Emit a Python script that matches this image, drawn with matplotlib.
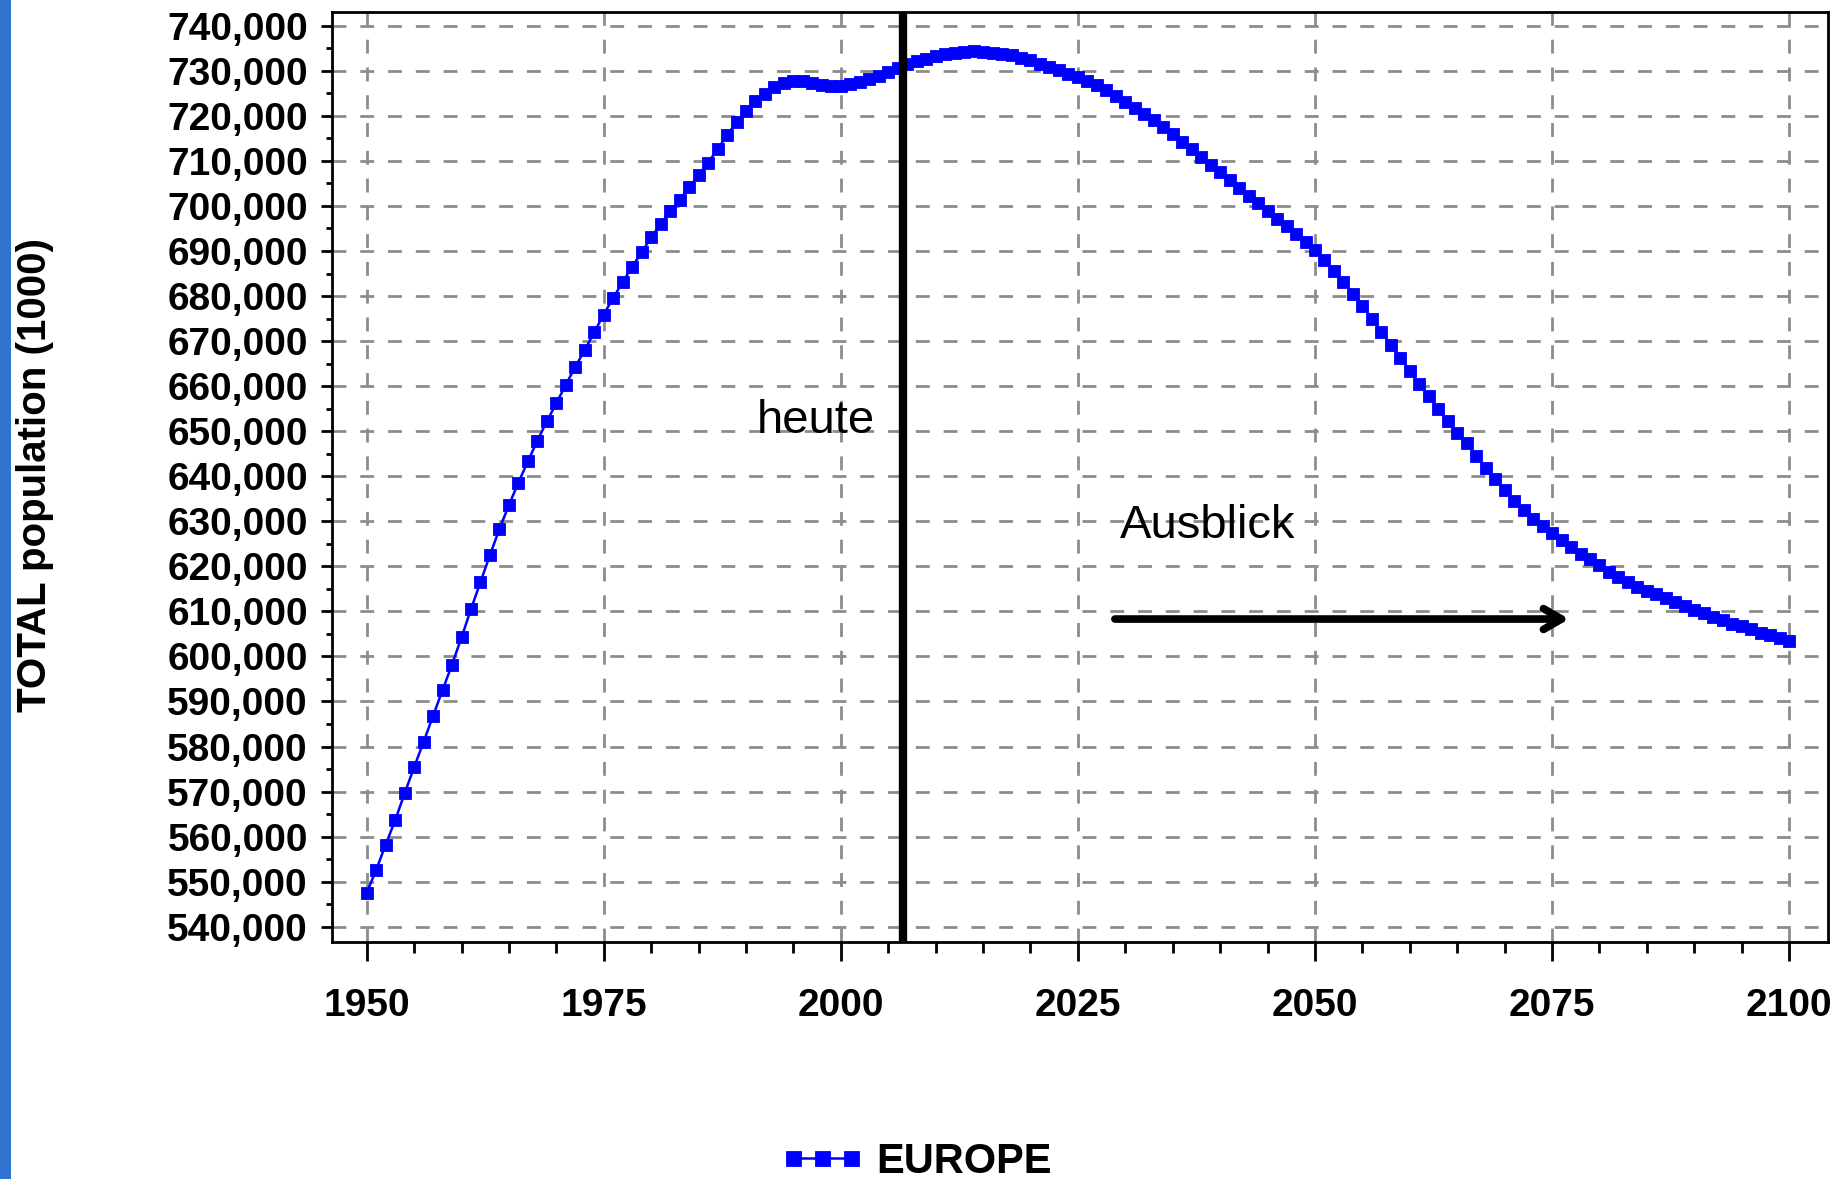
import numpy as np
import matplotlib
matplotlib.use('Agg')
import matplotlib.pyplot as plt
from matplotlib.ticker import MultipleLocator, FuncFormatter
from matplotlib.patches import Rectangle

plt.rcParams['font.family'] = ['Liberation Sans', 'DejaVu Sans']

# # # # # # # # # # # # # # # # # # # # # # # #
# Europa, Gesamtbevoelkerung (Mio.), Jahreswerte 1950-2100
jahre = list(range(1950, 2101))

europa_mio = [
    547.5, 552.6, 558.2, 563.6, 569.6, 575.4, 581.0, 586.8, 592.5, 598.2,   # 1950-59
    604.2, 610.5, 616.5, 622.5, 628.3, 633.6, 638.6, 643.3, 647.9, 652.2,   # 1960-69
    656.2, 660.3, 664.3, 668.0, 672.0, 675.9, 679.6, 683.1, 686.5, 689.7,   # 1970-79
    693.0, 696.0, 698.8, 701.4, 704.1, 706.8, 709.6, 712.6, 715.7, 718.6,   # 1980-89
    721.1, 723.2, 724.9, 726.3, 727.2, 727.7, 727.7, 727.4, 726.9, 726.6,   # 1990-99
    726.7, 727.0, 727.5, 728.2, 728.9, 729.7, 730.6, 731.4, 732.1, 732.7,   # 2000-09
    733.2, 733.7, 734.0, 734.2, 734.3, 734.2, 734.0, 733.8, 733.4, 732.9,   # 2010-19
    732.3, 731.6, 730.9, 730.1, 729.3, 728.6, 727.8, 726.9, 725.8, 724.5,   # 2020-29
    723.0, 721.7, 720.4, 719.0, 717.5, 715.9, 714.2, 712.6, 710.9, 709.2,   # 2030-39
    707.5, 705.7, 704.0, 702.3, 700.6, 698.9, 697.2, 695.5, 693.7, 692.0,   # 2040-49
    690.3, 687.9, 685.5, 683.2, 680.5, 677.8, 675.0, 672.1, 669.2, 666.3,   # 2050-59
    663.4, 660.5, 657.7, 654.9, 652.2, 649.7, 647.3, 644.5, 641.8, 639.3,   # 2060-69
    636.9, 634.6, 632.4, 630.6, 628.9, 627.4, 625.9, 624.4, 622.8, 621.6,   # 2070-79
    620.3, 618.8, 617.6, 616.5, 615.5, 614.6, 613.9, 613.0, 612.1, 611.1,   # 2080-89
    610.4, 609.6, 608.8, 608.0, 607.3, 606.7, 606.0, 605.3, 604.7, 604.1,   # 2090-99
    603.5,                                                                  # 2100
]

serien_name = 'EUROPE'
y_titel = 'TOTAL population (1000)'
text_heute = 'heute'
text_ausblick = 'Ausblick'

werte = np.array(europa_mio) * 1000


# # # # # # # # # # # # # # # # # # # # # # # #
# Grafik
fig = plt.figure(figsize=(18.35, 11.79), dpi=100)
ax = fig.add_axes([0.1807, 0.201, 0.8155, 0.789])

# blauer Balken am linken Rand
fig.patches.append(Rectangle((0, 0), 11 / 1835, 1, transform=fig.transFigure,
                             facecolor='#2F74D0', edgecolor='none'))

ax.plot(jahre, werte, color='#0000FF', linewidth=1.8, marker='s',
        markersize=8, markeredgewidth=0.6, markeredgecolor='#0000FF',
        label=serien_name, zorder=3)

ax.set_xlim(1946.3, 2104.1)
ax.set_ylim(536600, 743100)

ax.xaxis.set_major_locator(MultipleLocator(25))
ax.xaxis.set_minor_locator(MultipleLocator(5))
ax.yaxis.set_major_locator(MultipleLocator(10000))
ax.yaxis.set_minor_locator(MultipleLocator(5000))
ax.yaxis.set_major_formatter(FuncFormatter(lambda v, p: f'{v:,.0f}'))

ax.grid(True, which='major', color='#8C8C8C', linestyle=(0, (5, 5)),
        linewidth=2, zorder=0)
ax.set_axisbelow(True)

for s in ax.spines.values():
    s.set_linewidth(2)
    s.set_color('black')

ax.tick_params(axis='x', which='major', length=14, width=2, pad=19,
               labelsize=28)
ax.tick_params(axis='x', which='minor', length=8, width=2)
ax.tick_params(axis='y', which='major', length=8, width=2, pad=9,
               labelsize=28)
ax.tick_params(axis='y', which='minor', length=4, width=2)
for lbl in ax.get_xticklabels() + ax.get_yticklabels():
    lbl.set_fontweight('bold')

fig.text(0.019, 0.597, y_titel, rotation=90, ha='center', va='center',
         fontsize=29, fontweight='bold')

# Markierung "heute"
ax.axvline(2006.6, ymin=0.005, ymax=0.9975, color='black', linewidth=6,
           zorder=4)
ax.text(1991.1, 649600, text_heute, fontsize=34, ha='left', va='baseline')

# Ausblick mit Pfeil
ax.text(2029.4, 626200, text_ausblick, fontsize=34, ha='left', va='baseline')
ax.annotate('', xy=(2076.8, 608300), xytext=(2028.9, 608300),
            arrowprops=dict(arrowstyle='->,head_length=1.3,head_width=0.75',
                            color='black', linewidth=5.5,
                            shrinkA=0, shrinkB=0))

leg = fig.legend(loc='center left', bbox_to_anchor=(780 / 1835, 1 - 1162 / 1179),
                 frameon=False, numpoints=3, handlelength=2.0,
                 handletextpad=0.3, borderpad=0, borderaxespad=0,
                 markerscale=1.35, prop={'size': 30, 'weight': 'bold'})

fig.savefig('out.png', dpi=100)
